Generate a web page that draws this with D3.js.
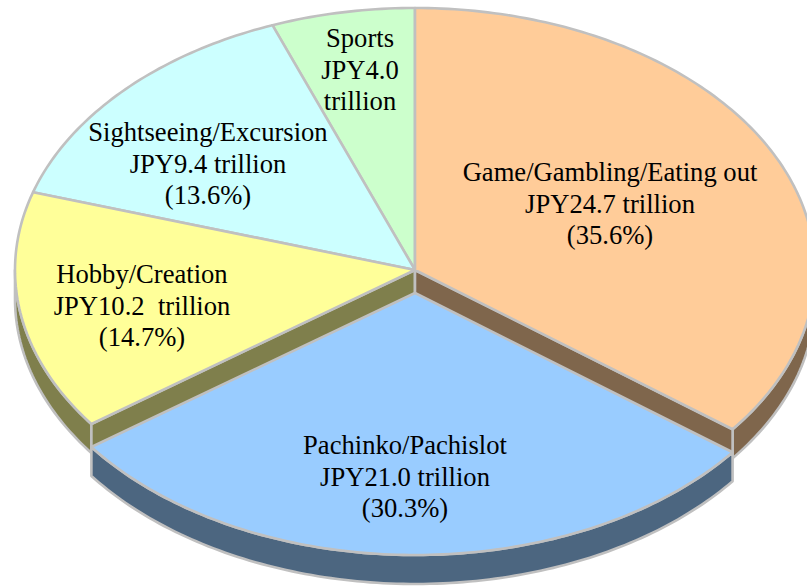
<!DOCTYPE html>
<html><head><meta charset="utf-8"><script src="https://cdn.jsdelivr.net/npm/d3@7"></script>
<style>html,body{margin:0;padding:0;background:#fff}svg{display:block}</style></head><body>
<svg id="c" width="807" height="586"></svg>
<script>
const categories=["Game/Gambling/Eating out","Pachinko/Pachislot","Hobby/Creation","Sightseeing/Excursion","Sports"];
const trillions=["JPY24.7 trillion","JPY21.0 trillion","JPY10.2  trillion","JPY9.4 trillion","JPY4.0"];
// slice shares as drawn in the picture (the perspective of the 3D pie shifts them slightly from the printed percentages)
const drawnShares=[35.4,29.6,14.8,14.4,5.8];
const percents=["(35.6%)","(30.3%)","(14.7%)","(13.6%)","trillion"];
const topColors=["#ffcc99","#99ccff","#ffff99","#ccffff","#ccffcc"];
const sideColors=["#7f664c","#4c6680","#7f7f4c","#668080","#668066"];
const labelPos=[[610,181],[405,454],[142,283],[208,141],[360,47]];
const cx=415,cy=270,rx=400,ry=262,depth=29,explode=[0,23,0,0,0];
const svg=d3.select("#c");
const pie=d3.pie().value(d=>d).sort(null).startAngle(0).endAngle(2*Math.PI)(drawnShares);
const px=a=>cx+rx*Math.sin(a);
const py=(a,o=0)=>cy-ry*Math.cos(a)+o;
const line="#c0c0c0",sw=2.6;
function arcPts(a0,a1,off,dz){const n=Math.max(2,Math.ceil((a1-a0)*60));return d3.range(n+1).map(i=>{const a=a0+(a1-a0)*i/n;return [px(a),py(a,off+dz)]});}
const lg=d3.line();
function shape(pts,fill){svg.append("path").attr("d",lg(pts)+"Z").attr("fill",fill).attr("stroke",line).attr("stroke-width",sw).attr("stroke-linejoin","round");}
[4,3,2,0,1].forEach(i=>{
  const s=pie[i],off=explode[i];
  const a0=Math.max(s.startAngle,Math.PI/2),a1=Math.min(s.endAngle,3*Math.PI/2);
  if(a1>a0) shape(arcPts(a0,a1,off,0).concat(arcPts(a0,a1,off,depth).reverse()),sideColors[i]);
  if(off===0&&(i===0||i===2)){
    const a=i===0?s.endAngle:s.startAngle;
    shape([[cx,cy],[px(a),py(a)],[px(a),py(a,depth)],[cx,cy+depth]],sideColors[i]);
  }
  shape([[cx,cy+off]].concat(arcPts(s.startAngle,s.endAngle,off,0)),topColors[i]);
});
categories.forEach((c,i)=>{
  const t=svg.append("text").attr("text-anchor","middle").attr("font-family","'Liberation Serif',serif").attr("font-size",26.6).attr("fill","#000");
  [c,trillions[i],percents[i]].forEach((l,j)=>t.append("tspan").attr("x",labelPos[i][0]).attr("y",labelPos[i][1]+j*31.7).style("white-space","pre").text(l));
});
</script></body></html>
